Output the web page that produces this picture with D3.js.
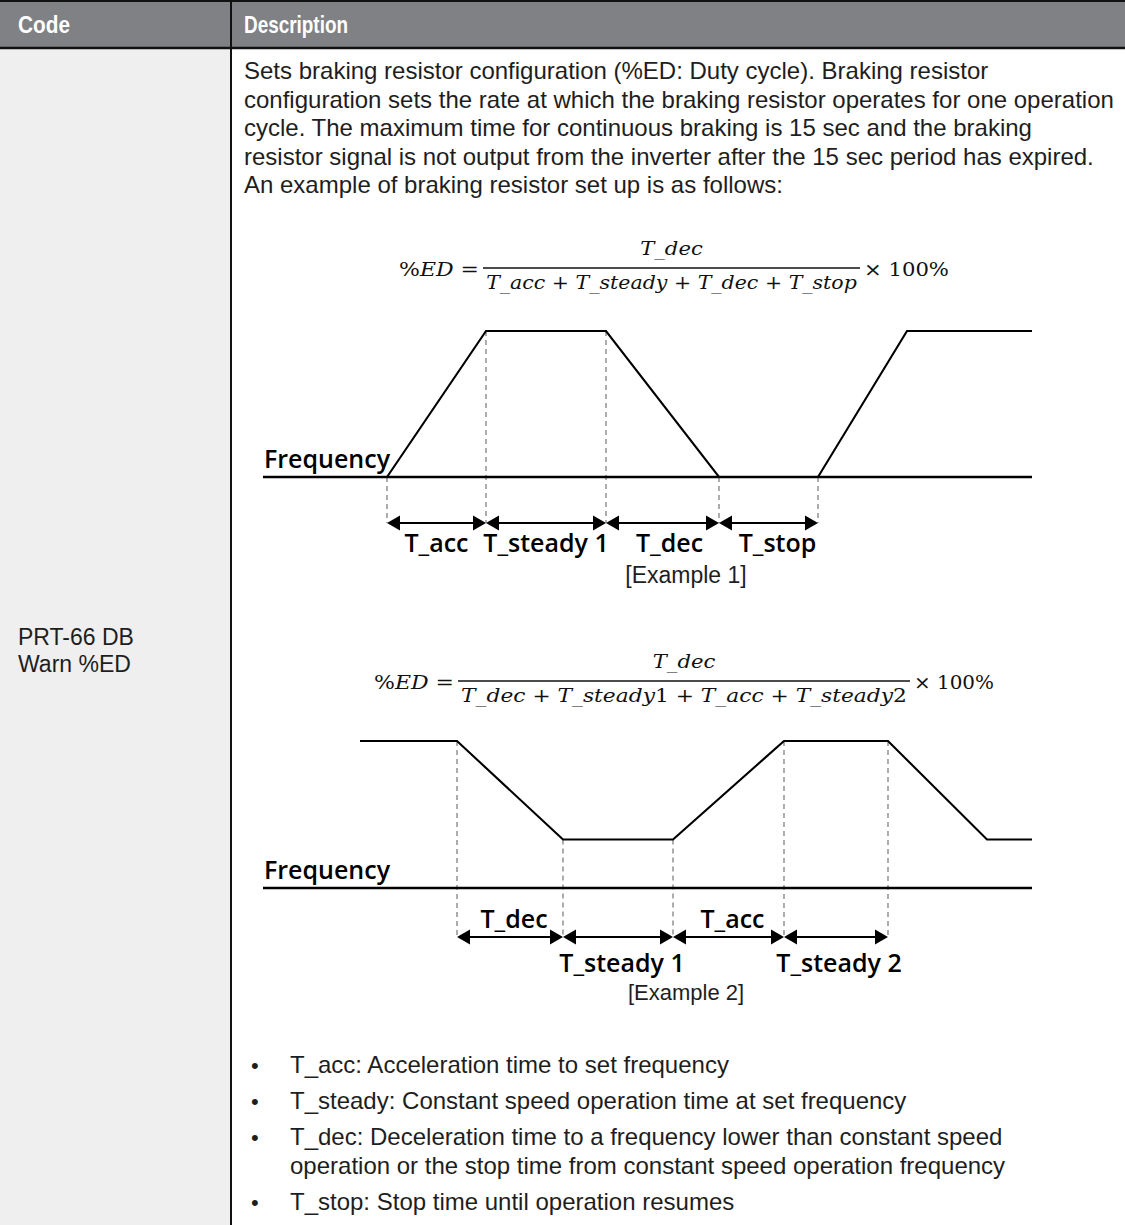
<!DOCTYPE html>
<html><head><meta charset="utf-8">
<script src="https://cdn.jsdelivr.net/npm/d3@7"></script>
<style>html,body{margin:0;padding:0;background:#fff;} svg{display:block;}</style>
</head><body><svg id="c" width="1125" height="1225"></svg>
<script>
// ---------------- data ----------------
const headerLabels = ["Code", "Description"];
const codeLines = ["PRT-66 DB", "Warn %ED"];
const introLines = [
  "Sets braking resistor configuration (%ED: Duty cycle). Braking resistor",
  "configuration sets the rate at which the braking resistor operates for one operation",
  "cycle. The maximum time for continuous braking is 15 sec and the braking",
  "resistor signal is not output from the inverter after the 15 sec period has expired.",
  "An example of braking resistor set up is as follows:"
];
const bulletItems = [
  ["T_acc: Acceleration time to set frequency"],
  ["T_steady: Constant speed operation time at set frequency"],
  ["T_dec: Deceleration time to a frequency lower than constant speed",
   "operation or the stop time from constant speed operation frequency"],
  ["T_stop: Stop time until operation resumes"]
];
const formulaNumerators = ["T_dec", "T_dec"];
const formulaDenominators = [
  "T_acc + T_steady + T_dec + T_stop",
  "T_dec + T_steady1 + T_acc + T_steady2"
];
const exampleTitles = ["[Example 1]", "[Example 2]"];
const axisLabel = "Frequency";

// Example 1 : frequency profile (time units, relative frequency)
const ex1Times = [0, 12.4, 22.3, 34.3, 45.6, 55.5, 64.4, 76.9];
const ex1Freq  = [0, 0, 1, 1, 0, 0, 1, 1];
const ex1Bounds = [12.4, 22.3, 34.3, 45.6, 55.5];
const ex1Labels = ["T_acc", "T_steady 1", "T_dec", "T_stop"];
const ex1Sides  = ["below", "below", "below", "below"];

// Example 2
const ex2Times = [9.7, 19.4, 30.0, 41.0, 52.1, 62.5, 72.4, 76.9];
const ex2Freq  = [1, 1, 0.33, 0.33, 1, 1, 0.33, 0.33];
const ex2Bounds = [19.4, 30.0, 41.0, 52.1, 62.5];
const ex2Labels = ["T_dec", "T_steady 1", "T_acc", "T_steady 2"];
const ex2Sides  = ["above", "below", "above", "below"];
const timeDomain = [0, 76.9];

// ---------------- drawing ----------------
const svg = d3.select("#c");
const W = 1125, H = 1225, colX = 231, headH = 48;
const bodyFont = "'Liberation Sans', Arial, sans-serif";
const labFont = "'Open Sans', 'Noto Sans', sans-serif";
const mathFont = "'DejaVu Serif', serif";
const ink = "#1e1e1e";

svg.append("rect").attr("x",0).attr("y",0).attr("width",W).attr("height",H).attr("fill","#fff");
svg.append("rect").attr("x",0).attr("y",headH).attr("width",colX).attr("height",H-headH).attr("fill","#efefef");
svg.append("rect").attr("x",0).attr("y",0).attr("width",W).attr("height",headH).attr("fill","#808184");
svg.append("line").attr("x1",0).attr("x2",W).attr("y1",1).attr("y2",1).attr("stroke","#111").attr("stroke-width",2);
svg.append("line").attr("x1",0).attr("x2",W).attr("y1",headH).attr("y2",headH).attr("stroke","#111").attr("stroke-width",2.5);
svg.append("line").attr("x1",colX).attr("x2",colX).attr("y1",0).attr("y2",H).attr("stroke","#111").attr("stroke-width",2);

function fitWidth(sel, target){
  const w = sel.node().getComputedTextLength();
  if (w > 0) sel.attr("textLength", target).attr("lengthAdjust","spacingAndGlyphs");
}
const hdrX = [18, 244], hdrW = [52, 104];
headerLabels.forEach((t,i)=>{
  const s = svg.append("text").attr("x",hdrX[i]).attr("y",headH/2+8.5)
    .attr("font-family",bodyFont).attr("font-weight","bold").attr("font-size",24)
    .attr("fill","#fff").text(t);
  fitWidth(s, hdrW[i]);
});

// intro paragraph
introLines.forEach((t,i)=>{
  svg.append("text").attr("x",244).attr("y",79 + i*28.5)
    .attr("font-family",bodyFont).attr("font-size",24).attr("fill",ink).text(t);
});

// code column
codeLines.forEach((t,i)=>{
  svg.append("text").attr("x",18).attr("y",645 + i*27)
    .attr("font-family",bodyFont).attr("font-size",23).attr("fill",ink).text(t);
});

// bullets
let by = 1073;
bulletItems.forEach((lines)=>{
  svg.append("text").attr("x",251).attr("y",by).attr("font-family",bodyFont)
    .attr("font-size",22).attr("fill",ink).text("•");
  lines.forEach((t,j)=>{
    svg.append("text").attr("x",290).attr("y",by + j*28.5)
      .attr("font-family",bodyFont).attr("font-size",24).attr("fill",ink).text(t);
  });
  by += (lines.length-1)*28.5 + 36;
});

// math formula
function drawFormula(k, cfg){
  const g = svg.append("g");
  g.append("line").attr("x1",cfg.bar0).attr("x2",cfg.bar1).attr("y1",cfg.barY).attr("y2",cfg.barY)
    .attr("stroke","#111").attr("stroke-width",1.6);
  const mk = (str, x, y, anchor, target) => {
    const t = g.append("text").attr("x",x).attr("y",y).attr("text-anchor",anchor)
      .attr("font-family",mathFont).attr("font-size",19).attr("fill","#111");
    str.split(/(\s\+\s|\d+)/).filter(p=>p.length).forEach(p=>{
      const upright = /^\s\+\s$/.test(p) || /^\d+$/.test(p);
      t.append("tspan").attr("font-style", upright ? "normal" : "italic").text(p);
    });
    if (target) {
      const w = t.node().getBBox().width;
      const sx = target / w;
      t.attr("transform",`translate(${x},0) scale(${sx},1) translate(${-x},0)`);
    }
    return t;
  };
  mk(formulaNumerators[k], (cfg.bar0+cfg.bar1)/2, cfg.barY-13, "middle", cfg.numW);
  mk(formulaDenominators[k], (cfg.bar0+cfg.bar1)/2, cfg.barY+21, "middle", cfg.bar1-cfg.bar0-6);
  const l = g.append("text").attr("x",cfg.bar0-4).attr("y",cfg.barY+8).attr("text-anchor","end")
    .attr("font-family",mathFont).attr("font-size",19).attr("fill","#111");
  l.append("tspan").text("%");
  l.append("tspan").attr("font-style","italic").text("ED");
  l.append("tspan").text(" =");
  const lw = l.node().getBBox().width, ls = cfg.leftW / lw;
  l.attr("transform",`translate(${cfg.bar0-4},0) scale(${ls},1) translate(${-(cfg.bar0-4)},0)`);
  const r = g.append("text").attr("x",cfg.bar1+4).attr("y",cfg.barY+8)
    .attr("font-family",mathFont).attr("font-size",19).attr("fill","#111").text("× 100%");
  const rw = r.node().getBBox().width, rs = cfg.rightW / rw;
  r.attr("transform",`translate(${cfg.bar1+4},0) scale(${rs},1) translate(${-(cfg.bar1+4)},0)`);
}
drawFormula(0, {bar0:483, bar1:860, barY:268, numW:63, leftW:80, rightW:85});
drawFormula(1, {bar0:458, bar1:910, barY:681, numW:63, leftW:80, rightW:80});

// diagrams
const x = d3.scaleLinear().domain(timeDomain).range([263, 1032]);
function drawDiagram(cfg){
  const y = d3.scaleLinear().domain([0,1]).range([cfg.base, cfg.top]);
  const g = svg.append("g");
  cfg.bounds.forEach(t=>{
    const i = cfg.times.indexOf(t);
    g.append("line").attr("x1",x(t)).attr("x2",x(t)).attr("y1",y(cfg.freq[i])).attr("y2",cfg.arrowY)
      .attr("stroke","#8a8a8a").attr("stroke-width",1.4).attr("stroke-dasharray","5,4");
  });
  g.append("line").attr("x1",x(timeDomain[0])).attr("x2",x(timeDomain[1]))
    .attr("y1",y(0)).attr("y2",y(0)).attr("stroke","#000").attr("stroke-width",2.6);
  const line = d3.line().x((d,i)=>x(cfg.times[i])).y((d,i)=>y(cfg.freq[i]));
  g.append("path").attr("d", line(cfg.times)).attr("fill","none")
    .attr("stroke","#000").attr("stroke-width",2.1).attr("stroke-linejoin","miter");
  g.append("text").attr("x",x(timeDomain[0])+1).attr("y",y(0)-9)
    .attr("font-family",labFont).attr("font-weight",600).attr("font-size",25)
    .attr("fill","#000").text(axisLabel);
  const hl = 13, hh = 7.5;
  for (let i=0;i<cfg.labels.length;i++){
    const a = x(cfg.bounds[i]), b = x(cfg.bounds[i+1]), ay = cfg.arrowY;
    g.append("line").attr("x1",a+4).attr("x2",b-4).attr("y1",ay).attr("y2",ay)
      .attr("stroke","#000").attr("stroke-width",2);
    g.append("path").attr("d",`M${a},${ay}L${a+hl},${ay-hh}L${a+hl},${ay+hh}Z`).attr("fill","#000");
    g.append("path").attr("d",`M${b},${ay}L${b-hl},${ay-hh}L${b-hl},${ay+hh}Z`).attr("fill","#000");
    const ly = cfg.sides[i] === "above" ? cfg.aboveY : cfg.belowY;
    g.append("text").attr("x",(a+b)/2 + cfg.nudge[i]).attr("y",ly).attr("text-anchor","middle")
      .attr("font-family",labFont).attr("font-weight",600).attr("font-size",25)
      .attr("fill","#000").text(cfg.labels[i]);
  }
  g.append("text").attr("x",686).attr("y",cfg.exampleY).attr("text-anchor","middle")
    .attr("font-family",bodyFont).attr("font-size",cfg.exampleSize).attr("fill",ink).text(cfg.title);
}
drawDiagram({times:ex1Times, freq:ex1Freq, bounds:ex1Bounds, labels:ex1Labels, sides:ex1Sides,
  base:477, top:331, arrowY:523, belowY:552, aboveY:514, exampleY:583, exampleSize:23,
  nudge:[0,0,7,9], title:exampleTitles[0]});
drawDiagram({times:ex2Times, freq:ex2Freq, bounds:ex2Bounds, labels:ex2Labels, sides:ex2Sides,
  base:888, top:741, arrowY:937, belowY:972, aboveY:928, exampleY:1000, exampleSize:22,
  nudge:[4,4,4,3], title:exampleTitles[1]});
</script></body></html>
